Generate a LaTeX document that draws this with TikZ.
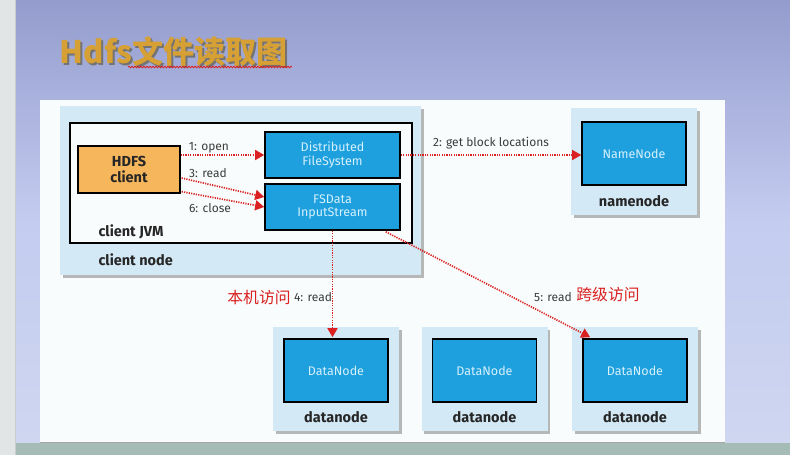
\documentclass[tikz,border=0pt]{standalone}
\usepackage{fontspec}
\setmainfont{Fira Sans}
\newfontfamily\cjkfont{Noto Sans CJK SC}
\usetikzlibrary{positioning,calc,shadows,arrows.meta,decorations.pathmorphing}
\definecolor{slidetop}{RGB}{148,156,206}
\definecolor{slidemid}{RGB}{196,204,240}
\definecolor{slidelow}{RGB}{206,214,240}
\definecolor{slidefoot}{RGB}{165,188,182}
\definecolor{stripgray}{RGB}{226,229,229}
\definecolor{panelwhite}{RGB}{249,252,252}
\definecolor{nodebg}{RGB}{212,233,246}
\definecolor{boxblue}{RGB}{30,160,222}
\definecolor{boxtext}{RGB}{214,240,252}
\definecolor{clientorange}{RGB}{246,182,92}
\definecolor{readred}{RGB}{218,32,32}
\definecolor{labelgray}{RGB}{60,60,60}
\definecolor{titlegold}{RGB}{214,160,52}
\definecolor{titlegray}{RGB}{115,115,115}
\tikzset{
	outerbox/.style={rectangle, fill=nodebg, inner sep=0pt,
		drop shadow={shadow xshift=2.5pt, shadow yshift=-2.5pt, fill=black!50, opacity=0.55}},
	bluebox/.style={rectangle, draw=black, fill=boxblue, line width=1.6pt, text=boxtext,
		font=\fontsize{12.5}{13.5}\selectfont, align=center, minimum width=135pt, minimum height=46pt},
	hostlabel/.style={font=\fontsize{14.5}{16}\selectfont\bfseries, text=black!85},
	steplabel/.style={font=\fontsize{12}{13}\selectfont, text=labelgray},
	cnlabel/.style={font=\cjkfont\fontsize{15.8}{17}\selectfont, text=readred},
	readarrow/.style={readred, line width=1.7pt, dash pattern=on 1.2pt off 1.2pt,
		-{Triangle[length=9pt,width=10pt]}}
}
\begin{document}
\begin{tikzpicture}[x=1pt,y=-1pt]
	\useasboundingbox (0,0) rectangle (790,455);
	% slide background
	\shade[top color=slidetop, bottom color=slidelow, middle color=slidemid] (15,0) rectangle (790,443);
	\fill[slidefoot] (15,443) rectangle (790,455);
	\fill[stripgray] (0,0) rectangle (15,455);
	\draw[black!20] (15,0) -- (15,455);
	\fill[panelwhite] (40,100) rectangle (725,442);
	\draw[black!35, line width=1pt] (40,442) -- (725,442);
	
	% title
	\node[font=\cjkfont\bfseries\fontsize{31}{32}\selectfont, text=titlegray] (tshadow) at (175.5,53.5) {Hdfs文件读取图};
	\node[font=\cjkfont\bfseries\fontsize{31}{32}\selectfont, text=titlegold] (title) at (173.5,52) {Hdfs文件读取图};
	\draw[readred, line width=0.8pt, decorate, decoration={snake, amplitude=0.8pt, segment length=3pt}] (128,67) -- (292,67);
	
	% client node
	\node[outerbox, minimum width=361pt, minimum height=169pt] (clientnode) at (240.5,190.5) {};
	\node[rectangle, draw=black, fill=panelwhite, line width=1.6pt, minimum width=342pt, minimum height=120pt] (jvm) at (241,183) {};
	\node[hostlabel, anchor=west] (jvmt) at (95,232) {client JVM};
	\node[hostlabel, anchor=west] (clientt) at (95,260) {client node};
	\node[rectangle, draw=black, fill=clientorange, line width=1.3pt, minimum width=102pt, minimum height=47pt,
		align=center, font=\fontsize{14.5}{16}\selectfont\bfseries, text=black!85] (client) at (129,169.5) {HDFS\\client};
	\node[bluebox] (dfs) at (332.5,155) {Distributed\\FileSystem};
	\node[bluebox] (fsdata) at (332.5,207) {FSData\\InputStream};
	
	% namenode
	\node[outerbox, minimum width=126pt, minimum height=107pt] (nnhost) at (634,161.5) {};
	\node[bluebox, minimum width=104pt, minimum height=63pt] (nn) at (634,153.5) {NameNode};
	\node[hostlabel] (nnt) at (634,201) {namenode};
	
	% datanodes
	\foreach \name/\x in {dn1/336, dn2/484.5, dn3/635}{
		\node[outerbox, minimum width=126pt, minimum height=104pt] (\name host) at (\x,379) {};
		\node[bluebox, minimum width=104pt, minimum height=63pt] (\name) at (\x,370.5) {DataNode};
		\node[hostlabel] (\name t) at (\x,417) {datanode};
	}
	
	% arrows
	\draw[readarrow] (client.east |- dfs.west) -- (dfs.west);
	\draw[readarrow] ($(client.east)+(1,8.5)$) -- ($(fsdata.west)+(0,-10)$);
	\draw[readarrow] ($(client.south east)+(1,-2)$) -- (fsdata.west);
	\draw[readarrow] (dfs.east) -- (nn.west |- dfs.east);
	\draw[readarrow] (fsdata.south) -- ($(fsdata.south |- dn1.north)+(0,-1)$);
	\draw[readarrow] ($(fsdata.south east)+(-15,1)$) -- ($(dn3.north west)+(8,-1)$);
	
	\node[steplabel] (l1) at (209,148) {1: open};
	\node[steplabel] (l3) at (208,173) {3: read};
	\node[steplabel] (l6) at (210,208) {6: close};
	\node[steplabel] (l2) at (491,143) {2: get block locations};
	\node[steplabel] (l4) at (313,297) {4: read};
	\node[steplabel] (l5) at (553,297) {5: read};
	\node[cnlabel] (local) at (259,298) {本机访问};
	\node[cnlabel] (remote) at (608,295) {跨级访问};
\end{tikzpicture}
\end{document}
